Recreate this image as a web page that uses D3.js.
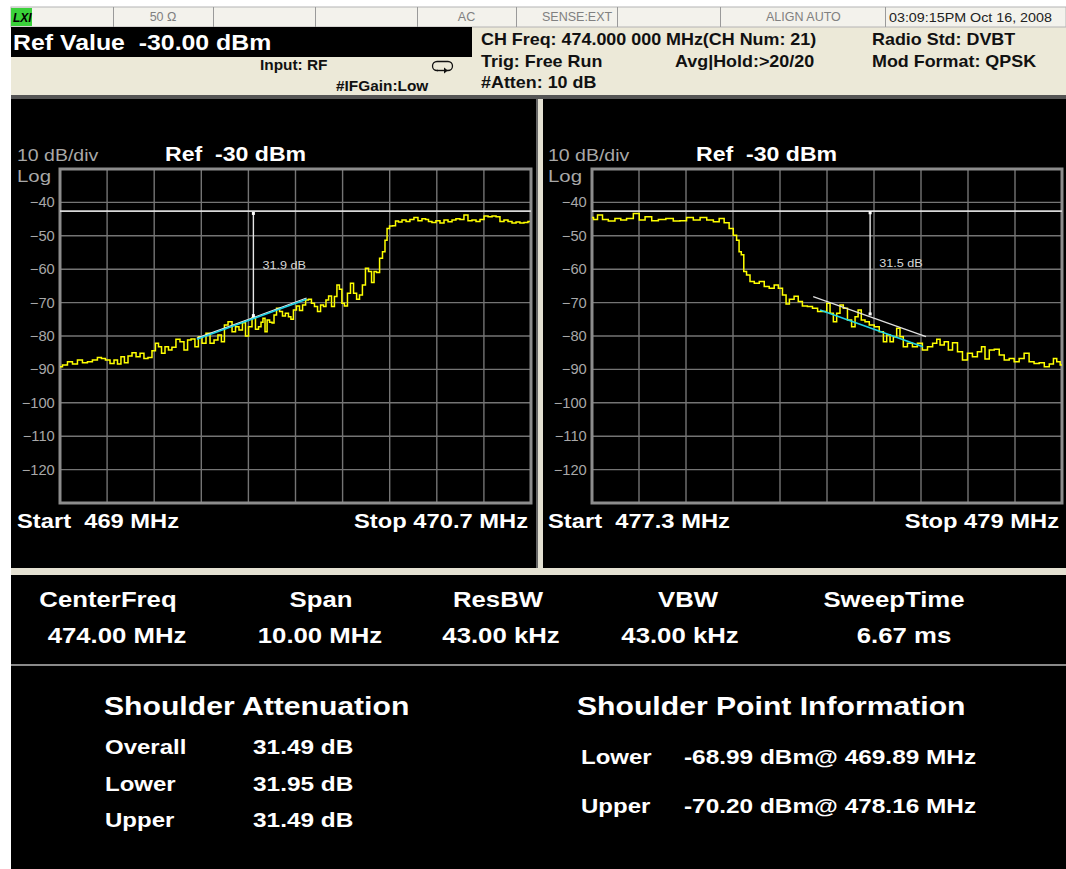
<!DOCTYPE html>
<html><head><meta charset="utf-8">
<script src="https://cdn.jsdelivr.net/npm/d3@7"></script>
<style>body{margin:0;background:#fff}svg{display:block}text{white-space:pre}</style>
</head><body>
<svg id="c" width="1066" height="869"></svg>
<script>
// ---------------- DATA ----------------
const yTicks = [-40, -50, -60, -70, -80, -90, -100, -110, -120];
const refDbm = -30;
const refLevel = -42.6;

const lowerSpan = [469.0, 470.7];
const lowerFreq = [469.000,469.018,469.036,469.054,469.072,469.090,469.108,469.126,469.144,469.155,469.173,469.188,469.202,469.213,469.227,469.238,469.253,469.267,469.282,469.296,469.310,469.325,469.339,469.350,469.361,469.372,469.386,469.397,469.411,469.426,469.440,469.455,469.466,469.480,469.494,469.505,469.520,469.534,469.549,469.563,469.577,469.588,469.599,469.614,469.628,469.639,469.653,469.664,469.675,469.686,469.700,469.711,469.722,469.729,469.736,469.744,469.751,469.762,469.769,469.776,469.787,469.798,469.808,469.819,469.830,469.837,469.848,469.859,469.870,469.881,469.892,469.902,469.913,469.924,469.935,469.946,469.956,469.964,469.975,469.985,469.996,470.003,470.014,470.021,470.032,470.043,470.054,470.065,470.076,470.086,470.097,470.108,470.119,470.130,470.137,470.148,470.159,470.169,470.177,470.184,470.195,470.206,470.216,470.227,470.242,470.256,470.270,470.285,470.299,470.314,470.325,470.335,470.350,470.364,470.379,470.393,470.408,470.422,470.436,470.451,470.465,470.480,470.494,470.509,470.523,470.538,470.552,470.567,470.581,470.595,470.610,470.624,470.639,470.653,470.667,470.682,470.696];
const lowerLevel = [-89.2,-88.7,-87.7,-88.4,-87.2,-88.0,-87.7,-87.2,-86.4,-86.7,-87.2,-88.2,-87.2,-88.4,-86.2,-88.0,-86.0,-85.0,-86.2,-85.2,-86.7,-86.4,-84.4,-82.2,-83.2,-85.2,-83.2,-84.2,-83.4,-81.0,-81.7,-84.2,-81.2,-80.9,-83.2,-80.2,-82.2,-79.2,-82.2,-81.2,-79.7,-81.7,-76.7,-75.7,-78.7,-77.2,-78.2,-76.0,-80.0,-77.2,-74.5,-78.0,-77.2,-75.9,-74.7,-78.7,-75.2,-75.9,-76.1,-73.7,-71.7,-72.7,-74.0,-73.2,-74.2,-75.0,-72.2,-71.0,-72.4,-70.7,-69.2,-69.0,-70.2,-71.2,-72.7,-70.7,-71.2,-69.2,-68.0,-71.2,-68.2,-64.7,-66.0,-70.2,-71.0,-67.2,-64.2,-67.2,-69.0,-67.7,-64.7,-59.7,-60.7,-64.0,-60.7,-61.0,-56.7,-54.8,-51.3,-47.8,-47.1,-47.0,-45.6,-45.9,-45.3,-45.7,-45.1,-44.5,-45.5,-44.9,-45.1,-45.7,-46.0,-45.5,-46.2,-45.3,-45.8,-45.3,-44.9,-45.1,-43.8,-45.5,-45.3,-45.7,-45.1,-44.1,-44.3,-44.1,-44.3,-45.7,-45.3,-45.7,-46.2,-45.9,-46.2,-46.0,-45.7];

const upperSpan = [477.3, 479.0];
const upperFreq = [477.300,477.311,477.329,477.347,477.371,477.395,477.413,477.437,477.462,477.480,477.504,477.528,477.552,477.582,477.606,477.630,477.654,477.679,477.703,477.727,477.751,477.769,477.787,477.805,477.817,477.829,477.835,477.845,477.853,477.865,477.878,477.896,477.914,477.932,477.950,477.968,477.980,477.998,478.006,478.022,478.040,478.052,478.070,478.088,478.107,478.125,478.143,478.155,478.167,478.179,478.191,478.203,478.215,478.233,478.245,478.258,478.267,478.281,478.294,478.312,478.330,478.348,478.360,478.372,478.384,478.396,478.408,478.420,478.432,478.450,478.468,478.486,478.504,478.523,478.541,478.553,478.565,478.583,478.595,478.613,478.631,478.649,478.667,478.685,478.703,478.715,478.728,478.746,478.764,478.782,478.800,478.818,478.836,478.854,478.872,478.890,478.908,478.927,478.945,478.963,478.975,478.987,479.000];
const upperLevel = [-44.5,-45.1,-43.8,-45.1,-45.6,-44.8,-45.3,-44.8,-43.3,-45.3,-44.3,-45.5,-45.1,-44.8,-45.6,-45.5,-44.5,-45.3,-44.5,-45.3,-45.8,-44.8,-46.1,-47.8,-49.8,-51.3,-54.8,-55.7,-60.7,-61.7,-63.7,-64.2,-63.7,-65.2,-65.7,-64.7,-65.7,-67.7,-70.4,-69.0,-68.1,-69.7,-71.0,-71.2,-71.7,-72.7,-72.7,-70.2,-73.2,-75.7,-73.2,-70.7,-71.7,-75.2,-77.2,-74.2,-72.2,-75.2,-75.7,-76.7,-77.2,-78.7,-81.7,-79.7,-81.7,-80.2,-77.7,-80.2,-83.2,-82.2,-83.2,-82.2,-84.2,-83.2,-82.2,-81.0,-82.7,-81.7,-84.2,-82.0,-84.7,-87.2,-85.2,-86.2,-84.7,-83.2,-86.9,-84.2,-84.0,-85.7,-87.2,-86.7,-87.7,-86.7,-85.2,-87.7,-88.2,-88.0,-89.2,-88.4,-86.7,-87.7,-88.7];

// shoulder markers: [freq, top dBm, bottom dBm]
const lowerMarker = [469.698, -43.3, -73.9];
const upperMarker = [478.306, -43.1, -73.4];
const lowerMarkerLabel = "31.9 dB";
const upperMarkerLabel = "31.5 dB";
// fitted lines: [[f0, dBm0], [f1, dBm1]]
const lowerCyan = [[469.494, -81.0], [469.89, -68.99]];
const upperCyan = [[478.125, -72.2], [478.497, -83.2]];
const upperWhite = [[478.100, -68.2], [478.508, -80.2]];

const statusCells = ["", "50 Ω", "", "", "AC", "SENSE:EXT", "", "ALIGN AUTO", "03:09:15PM Oct 16, 2008"];
const paramLabels = ["CenterFreq", "Span", "ResBW", "VBW", "SweepTime"];
const paramValues = ["474.00 MHz", "10.00 MHz", "43.00 kHz", "43.00 kHz", "6.67 ms"];
const attenLabels = ["Overall", "Lower", "Upper"];
const attenValues = ["31.49 dB", "31.95 dB", "31.49 dB"];
const pointLabels = ["Lower", "Upper"];
const pointValues = ["-68.99 dBm@ 469.89 MHz", "-70.20 dBm@ 478.16 MHz"];

// ---------------- DRAW ----------------
const svg = d3.select("#c");
const FONT = "'Liberation Sans', Arial, Helvetica, sans-serif";
function txt(g, x, y, s, o = {}) {
  const sx = o.sx ?? 1;
  return g.append("text")
    .attr("transform", `translate(${x},${y}) scale(${sx},1)`)
    .attr("font-family", FONT).attr("font-size", o.size || 14)
    .attr("font-weight", o.weight || "normal").attr("fill", o.fill || "#000")
    .attr("text-anchor", o.anchor || "start").text(s);
}

svg.append("rect").attr("width", 1066).attr("height", 869).attr("fill", "#fff");
// header
svg.append("rect").attr("x", 11).attr("y", 7).attr("width", 1055).attr("height", 90).attr("fill", "#ECE9D8");
svg.append("rect").attr("x", 11).attr("y", 7).attr("width", 1055).attr("height", 20).attr("fill", "#F3F2EC")
  .attr("stroke", "#b4b4b4").attr("stroke-width", 1);
const cellEdges = [11, 113, 213, 315, 417, 516, 617, 720, 885, 1066];
cellEdges.slice(1, -1).forEach(x => svg.append("line").attr("x1", x + 0.5).attr("x2", x + 0.5).attr("y1", 7).attr("y2", 27).attr("stroke", "#9a9a9a"));
statusCells.forEach((s, i) => {
  if (!s) return;
  const x0 = cellEdges[i], x1 = cellEdges[i + 1];
  if (i === 8) txt(svg, x0 + 4, 21.5, s, {size: 13, fill: "#222", sx: 1.1});
  else if (i === 5) txt(svg, x0 + 26, 21, s, {size: 12.5, fill: "#808080"});
  else if (i === 7) txt(svg, x0 + 46, 21, s, {size: 12.5, fill: "#808080"});
  else txt(svg, (x0 + x1) / 2, 21, s, {size: 12.5, fill: "#808080", anchor: "middle"});
});
svg.append("rect").attr("x", 11).attr("y", 8).attr("width", 21).attr("height", 18).attr("fill", "#3ad13a");
txt(svg, 13, 22, "LXI", {size: 12, weight: "bold", fill: "#000"}).attr("font-style", "italic");

svg.append("rect").attr("x", 11).attr("y", 27).attr("width", 461).attr("height", 30).attr("fill", "#000");
txt(svg, 13, 50, "Ref Value  -30.00 dBm", {size: 22, weight: "bold", fill: "#fff", sx: 1.13});
txt(svg, 260, 70, "Input: RF", {size: 14, weight: "bold", fill: "#111", sx: 1.1});
txt(svg, 336, 91, "#IFGain:Low", {size: 14, weight: "bold", fill: "#111", sx: 1.1});
// loop icon
svg.append("rect").attr("x", 432.5).attr("y", 61.5).attr("width", 20).attr("height", 9).attr("rx", 4.5)
  .attr("fill", "none").attr("stroke", "#111").attr("stroke-width", 1.3);
svg.append("rect").attr("x", 438).attr("y", 69).attr("width", 9).attr("height", 3).attr("fill", "#ECE9D8");
svg.append("path").attr("d", "M437,70.5 L445,70.5").attr("stroke", "#111").attr("stroke-width", 1.4);
svg.append("path").attr("d", "M444,67.5 L448,70.5 L444,73.5 Z").attr("fill", "#111");

const hdr = {size: 16, weight: "bold", fill: "#111", sx: 1.12};
txt(svg, 481, 45, "CH Freq: 474.000 000 MHz(CH Num: 21)", hdr);
txt(svg, 481, 66.5, "Trig: Free Run", hdr);
txt(svg, 675, 66.5, "Avg|Hold:>20/20", hdr);
txt(svg, 481, 88, "#Atten: 10 dB", hdr);
txt(svg, 872, 45, "Radio Std: DVBT", hdr);
txt(svg, 872, 66.5, "Mod Format: QPSK", hdr);

svg.append("rect").attr("x", 11).attr("y", 95).attr("width", 1055).attr("height", 4).attr("fill", "#555");

// black panels
svg.append("rect").attr("x", 11).attr("y", 99).attr("width", 1055).attr("height", 770).attr("fill", "#000");
svg.append("rect").attr("x", 536).attr("y", 99).attr("width", 2).attr("height", 469).attr("fill", "#666");
svg.append("rect").attr("x", 538).attr("y", 99).attr("width", 5).attr("height", 476).attr("fill", "#E4E1D2");
svg.append("rect").attr("x", 11).attr("y", 568).attr("width", 1055).attr("height", 7).attr("fill", "#E4E1D2");
svg.append("rect").attr("x", 11).attr("y", 664).attr("width", 1055).attr("height", 2).attr("fill", "#8a8a8a");

// ---------------- plots ----------------
function plot(id, left, right, span, freq, level, marker, markerLabel, cyan, white, startTxt, stopTxt, textX) {
  const top = 169, bottom = 503;
  const x = d3.scaleLinear().domain(span).range([left, right]);
  const y = d3.scaleLinear().domain([refDbm, refDbm - 100]).range([top, bottom]);
  const g = svg.append("g");
  // grid
  const vDiv = d3.range(0, 11).map(i => span[0] + i * (span[1] - span[0]) / 10);
  g.selectAll(".vg").data(vDiv.slice(1, -1)).join("line")
    .attr("x1", d => x(d)).attr("x2", d => x(d)).attr("y1", top).attr("y2", bottom)
    .attr("stroke", "#747474").attr("stroke-width", 1.4);
  g.selectAll(".hg").data(yTicks).join("line")
    .attr("x1", left).attr("x2", right).attr("y1", d => y(d)).attr("y2", d => y(d))
    .attr("stroke", "#747474").attr("stroke-width", 1.4);
  g.append("rect").attr("x", left).attr("y", top).attr("width", right - left).attr("height", bottom - top)
    .attr("fill", "none").attr("stroke", "#8c8c8c").attr("stroke-width", 3);
  // axis labels
  const ax = g.append("g").attr("transform", `translate(${left},0)`)
    .call(d3.axisLeft(y).tickValues(yTicks).tickSize(0).tickPadding(5));
  ax.select(".domain").remove();
  ax.selectAll("text").attr("font-family", FONT).attr("font-size", 14).attr("fill", "#a8a8a8")
    .attr("transform", "scale(1.05,1)");
  txt(g, textX, 161, "10 dB/div", {size: 16, fill: "#a8a8a8", sx: 1.22});
  txt(g, textX, 182, "Log", {size: 17, fill: "#a8a8a8", sx: 1.2});
  txt(g, textX + 148, 161, "Ref  -30 dBm", {size: 21, weight: "bold", fill: "#fff", sx: 1.1});
  txt(g, textX, 528, startTxt, {size: 21, weight: "bold", fill: "#fff", sx: 1.13});
  txt(g, right - 3, 528, stopTxt, {size: 21, weight: "bold", fill: "#fff", sx: 1.13, anchor: "end"});

  g.append("clipPath").attr("id", id).append("rect")
    .attr("x", left).attr("y", top).attr("width", right - left).attr("height", bottom - top);
  const pg = g.append("g").attr("clip-path", `url(#${id})`);
  // reference line
  pg.append("line").attr("x1", left).attr("x2", right).attr("y1", y(refLevel)).attr("y2", y(refLevel))
    .attr("stroke", "#d9d9d9").attr("stroke-width", 1.6);
  // trace
  const line = d3.line().x(d => x(d[0])).y(d => y(d[1]));
  const stepLine = d3.line().x(d => x(d[0])).y(d => y(d[1])).curve(d3.curveStep);
  pg.append("path").datum(d3.zip(freq, level)).attr("d", stepLine)
    .attr("fill", "none").attr("stroke", "#ffff00").attr("stroke-width", 1.5);
  // fitted lines
  if (white) pg.append("path").datum(white).attr("d", line).attr("stroke", "#e0e0e0").attr("stroke-width", 1.2).attr("fill", "none");
  else pg.append("path").datum(cyan.map(d => [d[0], d[1] + 0.35])).attr("d", line).attr("stroke", "#e8e8e8").attr("stroke-width", 1.2).attr("fill", "none");
  pg.append("path").datum(cyan).attr("d", line).attr("stroke", "#22d3e6").attr("stroke-width", 1.6).attr("fill", "none");
  // marker
  const mx = x(marker[0]);
  pg.append("line").attr("x1", mx).attr("x2", mx).attr("y1", y(marker[1])).attr("y2", y(marker[2]))
    .attr("stroke", "#e6e6e6").attr("stroke-width", 1.4);
  [marker[1], marker[2]].forEach(v => pg.append("rect").attr("x", mx - 1.5).attr("y", y(v) - 1.5)
    .attr("width", 3).attr("height", 3).attr("fill", "#fff"));
  txt(pg, mx + 9, y((marker[1] + marker[2]) / 2) + 4, markerLabel, {size: 11, fill: "#d8d8d8", sx: 1.15});
}
plot("clipL", 60, 531, lowerSpan, lowerFreq, lowerLevel, lowerMarker, lowerMarkerLabel, lowerCyan, null,
  "Start  469 MHz", "Stop 470.7 MHz", 17);
plot("clipR", 592, 1062, upperSpan, upperFreq, upperLevel, upperMarker, upperMarkerLabel, upperCyan, upperWhite,
  "Start  477.3 MHz", "Stop 479 MHz", 548);

// ---------------- params ----------------
const labelCx = [108, 321, 498, 688, 894];
const valueCx = [117, 320, 501, 680, 904];
paramLabels.forEach((s, i) => txt(svg, labelCx[i], 607, s, {size: 22, weight: "bold", fill: "#fff", sx: 1.17, anchor: "middle"}));
paramValues.forEach((s, i) => txt(svg, valueCx[i], 643, s, {size: 22, weight: "bold", fill: "#fff", sx: 1.17, anchor: "middle"}));

txt(svg, 104, 715, "Shoulder Attenuation", {size: 26, weight: "bold", fill: "#fff", sx: 1.16});
txt(svg, 577, 715, "Shoulder Point Information", {size: 26, weight: "bold", fill: "#fff", sx: 1.16});
const attenY = [754, 791, 827];
attenLabels.forEach((s, i) => {
  txt(svg, 105, attenY[i], s, {size: 20, weight: "bold", fill: "#fff", sx: 1.2});
  txt(svg, 253, attenY[i], attenValues[i], {size: 20, weight: "bold", fill: "#fff", sx: 1.22});
});
const pointY = [764, 813];
pointLabels.forEach((s, i) => {
  txt(svg, 581, pointY[i], s, {size: 20, weight: "bold", fill: "#fff", sx: 1.2});
  txt(svg, 684, pointY[i], pointValues[i], {size: 20, weight: "bold", fill: "#fff", sx: 1.22});
});
</script>
</body></html>
